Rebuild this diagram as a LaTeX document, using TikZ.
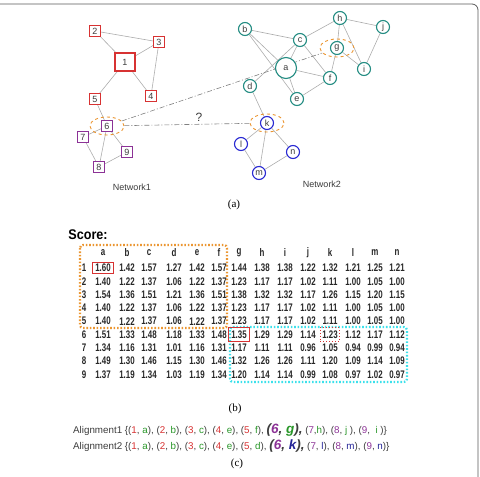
\documentclass[tikz,border=0pt]{standalone}
\usepackage{fontspec}
\setmainfont{Liberation Sans}
\newfontfamily\capfont{Liberation Serif}
\usepackage{graphicx}
\usepackage{xcolor}
\usetikzlibrary{arrows.meta, calc, fit, backgrounds, shapes.geometric}
\definecolor{nred}{RGB}{215,50,50}
\definecolor{npurple}{RGB}{140,50,150}
\definecolor{nteal}{RGB}{35,140,130}
\definecolor{nblue}{RGB}{40,40,210}
\definecolor{nnavy}{RGB}{35,35,150}
\definecolor{norange}{RGB}{235,150,50}
\definecolor{ngreen}{RGB}{40,150,40}
\definecolor{ncyan}{RGB}{60,225,235}
\definecolor{ntext}{RGB}{60,60,60}
\newcommand{\nar}[1]{\scalebox{0.72}[1]{#1}}
\newcommand{\apair}[4]{(\textcolor{#2}{#1}, \textcolor{#4}{#3})}
\newcommand{\bigpair}[4]{{\fontsize{13.5}{13.5}\selectfont\bfseries\itshape (\textcolor{#2}{#1}, \textcolor{#4}{#3}),}}

\begin{document}
\begin{tikzpicture}[x=1pt, y=-1pt,
    edgestyle/.style={draw=gray!65, line width=0.6pt},
    dashstyle/.style={draw=gray, line width=0.6pt, dash pattern=on 5pt off 2pt on 1pt off 2pt},
    sqnode/.style={rectangle, draw=#1, line width=1.1pt, fill=white, minimum size=10.5pt,
      inner sep=0pt, font=\fontsize{9}{9}\selectfont, text=ntext},
    cnode/.style={circle, draw=#1, line width=1.1pt, fill=white, minimum size=13pt,
      inner sep=0pt, font=\fontsize{9}{9}\selectfont, text=ntext},
    ring/.style={ellipse, draw=norange, dashed, line width=0.9pt, minimum width=34pt,
      minimum height=18pt, inner sep=0pt},
    cell/.style={inner sep=0pt, font=\fontsize{11}{11}\selectfont\bfseries, text=black!85},
    redbox/.style={draw=nred, line width=1pt, inner xsep=2.8pt, inner ysep=1.6pt},
    caption/.style={font=\capfont\fontsize{11}{11}\selectfont},
    netlabel/.style={font=\fontsize{9}{9}\selectfont, text=ntext},
    alignstyle/.style={anchor=west, inner sep=0pt, font=\fontsize{9.8}{10}\selectfont, text=ntext}]
  \useasboundingbox (0,0) rectangle (480,477);
  % outer frame
  \draw[gray!70!black, line width=0.8pt, rounded corners=6pt] (-10,4) -- (478,4) -- (478,490);
  % network 1
  \node[sqnode=nred, minimum width=20pt, minimum height=18pt] (n1) at (125,62) {1};
  \node[sqnode=nred] (n2) at (95,31) {2};
  \node[sqnode=nred] (n3) at (159,42) {3};
  \node[sqnode=nred] (n4) at (151,96) {4};
  \node[sqnode=nred] (n5) at (95,99) {5};
  \node[sqnode=npurple] (n6) at (107,126) {6};
  \node[sqnode=npurple] (n7) at (83,137) {7};
  \node[sqnode=npurple] (n8) at (99,167) {8};
  \node[sqnode=npurple] (n9) at (127,152) {9};
  \node[netlabel] (net1) at (132,187) {Network1};
  % network 2
  \node[cnode=nteal, minimum size=21pt] (na) at (286,68) {a};
  \node[cnode=nteal] (nb) at (245,29) {b};
  \node[cnode=nteal] (nc) at (300,40) {c};
  \node[cnode=nteal] (nd) at (250,86) {d};
  \node[cnode=nteal] (ne) at (297,99) {e};
  \node[cnode=nteal] (nf) at (330,78) {f};
  \node[cnode=nteal] (ng) at (337,48) {g};
  \node[cnode=nteal] (nh) at (340,18) {h};
  \node[cnode=nteal] (ni) at (364,69) {i};
  \node[cnode=nteal] (nj) at (383,27) {j};
  \node[cnode=nblue] (nk) at (267,123) {k};
  \node[cnode=nblue] (nl) at (241,144) {l};
  \node[cnode=nblue] (nm) at (259,173) {m};
  \node[cnode=nblue] (nn) at (293,152) {n};
  \node[netlabel] (net2) at (322,184) {Network2};
  % matched candidates
  \node[ring] (r6) at (n6) {};
  \node[ring] (rg) at (ng) {};
  \node[ring] (rk) at (nk) {};
  \node[font=\fontsize{12}{12}\selectfont, text=ntext] (qm) at (199,117) {?};
  \begin{scope}[on background layer]
    \foreach \u/\v in {n2/n1, n2/n3, n3/n1, n3/n4, n1/n4, n1/n5, n5/n6, n6/n7,
        n6/n8, n6/n9, n7/n8, n8/n9}
      \draw[edgestyle] (\u) -- (\v);
    \foreach \u/\v in {nb/nc, nb/na, nb/ne, nc/nh, nc/na, nc/nf, nd/nc, nh/ng,
        nh/ni, nh/nj, nj/ni, ng/ni, ng/nf, na/nf, na/ne, nf/ne, nd/nk, nk/nl,
        nk/nm, nk/nn, nl/nm, nm/nn}
      \draw[edgestyle] (\u) -- (\v);
    \draw[dashstyle] (r6) -- (rg);
    \draw[dashstyle] (r6) -- (rk);
  \end{scope}
  \node[caption] (capa) at (234,205) {(a)};
  % score table
  \node[font=\fontsize{14}{14}\selectfont\bfseries] (score) at (88,235) {\scalebox{0.9}[1]{Score:}};
  \foreach \cl/\xx [count=\j] in {a/103,b/127,c/149,d/174,e/197,f/219,g/239,
      h/262,i/285,j/308,k/330,l/353,m/375,n/397}
    \node[cell] (h\j) at (\xx,253) {\nar{\cl}};
  \foreach \r/\vals in {
      1/{1.60,1.42,1.57,1.27,1.42,1.57,1.44,1.38,1.38,1.22,1.32,1.21,1.25,1.21},
      2/{1.40,1.22,1.37,1.06,1.22,1.37,1.23,1.17,1.17,1.02,1.11,1.00,1.05,1.00},
      3/{1.54,1.36,1.51,1.21,1.36,1.51,1.38,1.32,1.32,1.17,1.26,1.15,1.20,1.15},
      4/{1.40,1.22,1.37,1.06,1.22,1.37,1.23,1.17,1.17,1.02,1.11,1.00,1.05,1.00},
      5/{1.40,1.22,1.37,1.06,1.22,1.37,1.23,1.17,1.17,1.02,1.11,1.00,1.05,1.00},
      6/{1.51,1.33,1.48,1.18,1.33,1.48,1.35,1.29,1.29,1.14,1.23,1.12,1.17,1.12},
      7/{1.34,1.16,1.31,1.01,1.16,1.31,1.17,1.11,1.11,0.96,1.05,0.94,0.99,0.94},
      8/{1.49,1.30,1.46,1.15,1.30,1.46,1.32,1.26,1.26,1.11,1.20,1.09,1.14,1.09},
      9/{1.37,1.19,1.34,1.03,1.19,1.34,1.20,1.14,1.14,0.99,1.08,0.97,1.02,0.97}} {
    \node[cell] (r\r) at (84,{268+13.3*(\r-1)}) {\nar{\r}};
    \foreach \v [count=\j] in \vals
      \node[cell] (v\r-\j) at (h\j |- r\r) {\nar{\v}};
  }
  \draw[norange, line width=2.2pt, dash pattern=on 1.6pt off 1.8pt, rounded corners=3pt]
    (80,245) rectangle (227,328);
  \draw[ncyan, line width=2.2pt, dash pattern=on 1.6pt off 1.8pt, rounded corners=3pt]
    (230,327) rectangle (407,382);
  \node[redbox, fit=(v1-1)] (best1) {};
  \node[redbox, inner ysep=3pt, fit=(v6-7)] (best6) {};
  \node[redbox, dotted, inner xsep=1.8pt, inner ysep=2.5pt, fit=(v6-11)] (alt6) {};
  \node[caption] (capb) at (235,409) {(b)};
  % alignments
  \node[alignstyle] (al1) at (73,430)
    {Alignment1 \{\apair{1}{nred}{a}{ngreen}, \apair{2}{nred}{b}{ngreen},
     \apair{3}{nred}{c}{ngreen}, \apair{4}{nred}{e}{ngreen}, (\textcolor{nred}{5},\ \textcolor{ngreen}{f}),
     \bigpair{6}{npurple}{g}{ngreen} (\textcolor{npurple}{7},\textcolor{ngreen}{h}),
     (\textcolor{npurple}{8}, \textcolor{ngreen}{j} ), (\textcolor{npurple}{9},\ \ \textcolor{ngreen}{i} )\}};
  \node[alignstyle] (al2) at (73,446)
    {Alignment2 \{\apair{1}{nred}{a}{ngreen}, \apair{2}{nred}{b}{ngreen},
     \apair{3}{nred}{c}{ngreen}, \apair{4}{nred}{e}{ngreen}, \apair{5}{nred}{d}{ngreen},
     \bigpair{6}{npurple}{k}{nnavy} \apair{7}{npurple}{l}{nnavy},
     \apair{8}{npurple}{m}{nnavy}, \apair{9}{npurple}{n}{nnavy}\}};
  \node[caption] (capc) at (237,464) {(c)};
\end{tikzpicture}
\end{document}
